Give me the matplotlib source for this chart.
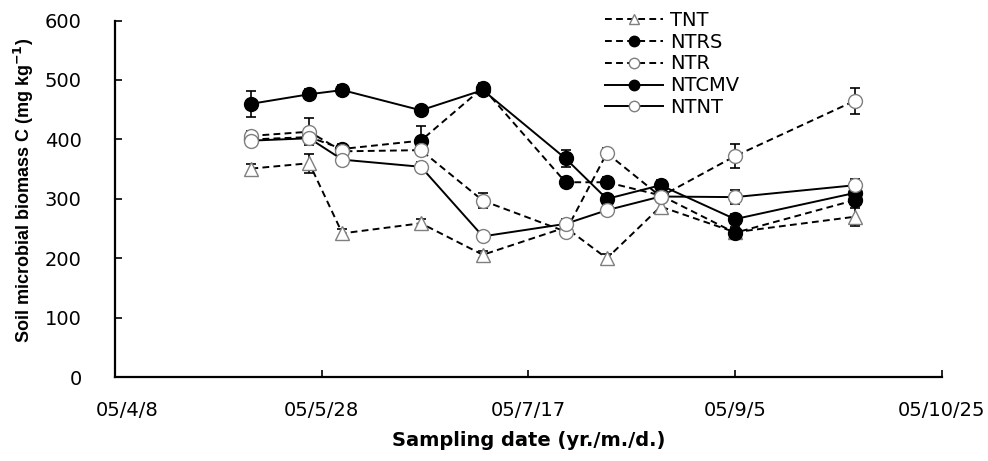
import matplotlib
matplotlib.use("Agg")
import matplotlib.pyplot as plt
import matplotlib.transforms as mtrans
import numpy as np
import datetime as dt

plt.rcParams['font.family'] = ['DejaVu Sans']

dates = ['2005-05-11', '2005-05-25', '2005-06-02', '2005-06-21', '2005-07-06',
         '2005-07-26', '2005-08-05', '2005-08-18', '2005-09-05', '2005-10-04']

TNT = [351, 360, 242, 259, 206, 252, 200, 287, 244, 270]
NTRS = [400, 404, 384, 398, 487, 328, 328, 306, 243, 298]
NTR = [406, 413, 380, 382, 297, 245, 377, 304, 372, 465]
NTCMV = [460, 476, 483, 449, 483, 368, 300, 323, 266, 310]
NTNT = [398, 402, 366, 354, 237, 258, 281, 304, 303, 323]

TNT_err = [8, 16, 8, 8, 6, 8, 8, 12, 8, 15]
NTRS_err = [8, 8, 8, 25, 8, 8, 8, 8, 8, 8]
NTR_err = [8, 23, 8, 8, 13, 8, 8, 8, 20, 22]
NTCMV_err = [22, 8, 8, 8, 8, 15, 8, 8, 8, 8]
NTNT_err = [8, 8, 8, 8, 8, 8, 8, 8, 12, 10]

xtick_dates = ['2005-04-08', '2005-05-28', '2005-07-17', '2005-09-05', '2005-10-25']
xtick_labels = ['05/4/8', '05/5/28', '05/7/17', '05/9/5', '05/10/25']

x = [dt.datetime.strptime(d, '%Y-%m-%d') for d in dates]
xt = [dt.datetime.strptime(d, '%Y-%m-%d') for d in xtick_dates]

fig = plt.figure(figsize=(9.88, 4.61), dpi=100)
ax = fig.add_axes([0.1164, 0.1816, 0.8367, 0.7739])

grey = '#7f7f7f'
dash = (0, (3.5, 2.2))
series = [
    ('TNT', TNT, TNT_err, dash, '^', 'white', grey),
    ('NTRS', NTRS, NTRS_err, dash, 'o', 'black', 'black'),
    ('NTR', NTR, NTR_err, dash, 'o', 'white', grey),
    ('NTCMV', NTCMV, NTCMV_err, '-', 'o', 'black', 'black'),
    ('NTNT', NTNT, NTNT_err, '-', 'o', 'white', grey),
]

for name, y, e, ls, mk, fc, ec in series:
    ax.errorbar(x, y, yerr=e, fmt='none', ecolor='black', elinewidth=1.2,
                capsize=3.6, capthick=1.2, zorder=2)
    ax.plot(x, y, linestyle=ls, color='black', linewidth=1.4, marker=mk,
            markersize=10, markerfacecolor=fc,
            markeredgecolor=ec, markeredgewidth=1.0, label=name, zorder=3)

ax.set_xlim(xt[0], xt[-1])
ax.set_ylim(0, 600)
ax.set_xticks(xt)
ax.set_xticklabels(xtick_labels)
ax.set_yticks(np.arange(0, 601, 100))

for s in ['top', 'right']:
    ax.spines[s].set_visible(False)
for s in ['left', 'bottom']:
    ax.spines[s].set_linewidth(1.6)

ax.tick_params(axis='x', direction='in', length=5, width=1.2, labelsize=14, pad=17)
ax.tick_params(axis='y', direction='in', length=5, width=1.2, labelsize=14, pad=24)

# first date label sits slightly right of its tick in the reference
lbl0 = ax.get_xticklabels()[0]
lbl0.set_transform(lbl0.get_transform() + mtrans.ScaledTranslation(12 / 100, 0, fig.dpi_scale_trans))

ax.set_xlabel('Sampling date (yr./m./d.)', fontsize=14, fontweight='bold', labelpad=8)
fig.text(0.024, 1 - 190 / 461, 'Soil microbial biomass C (mg kg$^{\\mathbf{-1}}$)',
         rotation=90, ha='center', va='center', fontsize=13, fontweight='bold',
         family='Liberation Sans')

leg = ax.legend(loc='upper left', bbox_to_anchor=(0.612, 0.977),
                bbox_transform=fig.transFigure, frameon=False, fontsize=14,
                handlelength=3.0, handletextpad=0.35, labelspacing=0.15,
                borderpad=0, borderaxespad=0, markerscale=0.75)

fig.savefig('out.png', dpi=100)
